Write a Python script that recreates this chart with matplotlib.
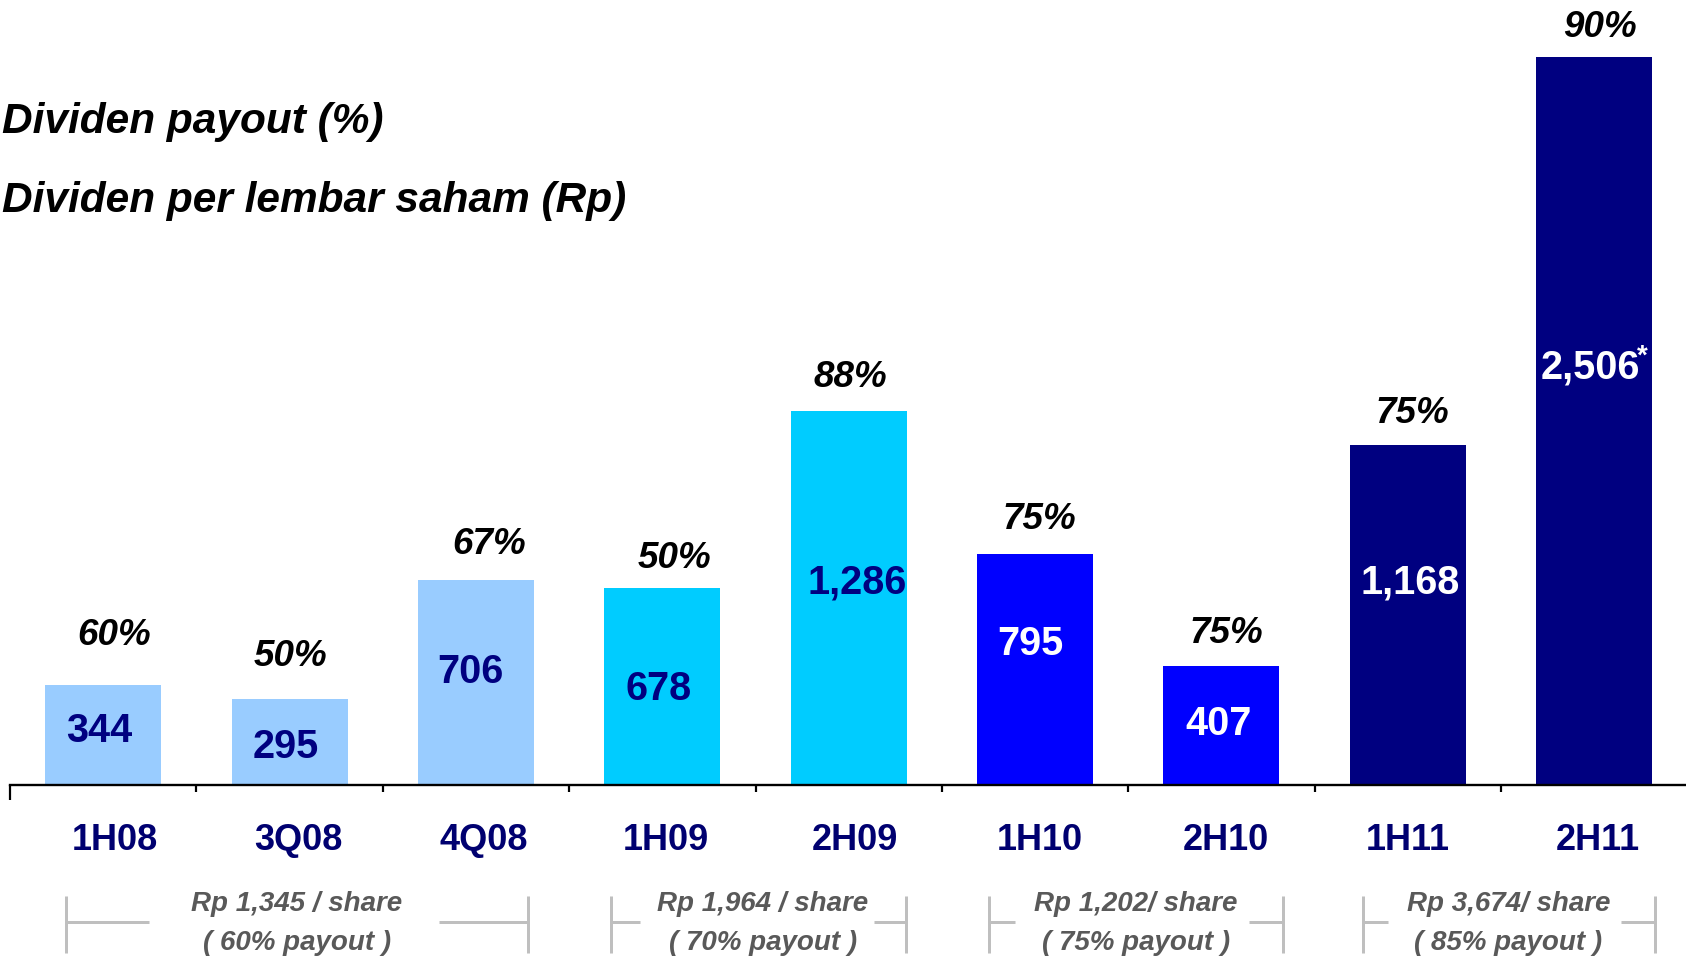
import matplotlib
matplotlib.use("Agg")
import matplotlib.pyplot as plt
from matplotlib import transforms

# ---- data ----
periods = ["1H08", "3Q08", "4Q08", "1H09", "2H09", "1H10", "2H10", "1H11", "2H11"]
dividend_per_share = [344, 295, 706, 678, 1286, 795, 407, 1168, 2506]
payout_pct = [60, 50, 67, 50, 88, 75, 75, 75, 90]
fiscal_year = [2008, 2008, 2008, 2009, 2009, 2010, 2010, 2011, 2011]

years = [2008, 2009, 2010, 2011]
year_total = ["Rp 1,345 / share", "Rp 1,964 / share", "Rp 1,202/ share", "Rp 3,674/ share"]
year_payout = ["( 60% payout )", "( 70% payout )", "( 75% payout )", "( 85% payout )"]

# ---- styling ----
year_color = {2008: "#99CCFF", 2009: "#00CCFF", 2010: "#0000FF", 2011: "#000080"}
year_text_color = {2008: "#000080", 2009: "#000080", 2010: "white", 2011: "white"}
NAVY = "#000070"
GREY_TEXT = "#595959"
GREY_LINE = "#BFBFBF"

W, H, DPI = 1686, 957, 100
PX = 72.0 / DPI                     # points per pixel

# label placement: baseline of the value inside each bar (data units),
# horizontal nudges (pixels) and gap between bar top and payout baseline
inner_baseline = [148, 91, 350, 291, 658, 446, 169, 658, 1399]
inner_dx_px = [-4, -4, -6, -4, 8, -5, -3, 2, -4]
pct_gap_px = [40, 33, 26, 20, 24, 25, 23, 22, 20]
pct_dx_px = [11, 1, 13, 12, 2, 4, 5, 4, 6]
period_dx_px = [12, 9, 8, 4, 6, 5, 4, 0, 4]
# bracket extents around each year (in category units)
bracket_pad_left = [0.20, 0.275, 0.247, 0.24]
bracket_pad_right = [0.28, 0.31, 0.33, 0.326]
arm_left = [0.445, 0.156, 0.14, 0.134]
arm_right = [0.477, 0.172, 0.18, 0.18]

plt.rcParams["font.family"] = ["Liberation Sans", "DejaVu Sans"]

fig = plt.figure(figsize=(W / DPI, H / DPI), dpi=DPI)
base_px = 784.5
ax = fig.add_axes([10 / W, (H - base_px) / H, 1 - 10 / W, base_px / H])

slot = 186.4                        # pixels per category
x0_px = 103.0                       # centre of the first bar
ax.set_xlim((10 - x0_px) / slot, (W - x0_px) / slot)
ax.set_ylim(0, base_px / 0.2903)

xs = list(range(len(periods)))
colors = [year_color[y] for y in fiscal_year]
ax.bar(xs, dividend_per_share, width=0.622, color=colors, zorder=2)

for s in ("top", "right", "left"):
    ax.spines[s].set_visible(False)
ax.spines["bottom"].set_linewidth(1.7)
ax.set_yticks([])
ax.set_xticks([-0.5])
ax.set_xticklabels([""])
ax.set_xticks([i + 0.5 for i in xs[:-1]], minor=True)
ax.tick_params(axis="x", which="major", direction="out", length=15 * PX, width=2.2 * PX)
ax.tick_params(axis="x", which="minor", direction="out", length=7 * PX, width=2.2 * PX)

# values inside the bars
for i, (v, y) in enumerate(zip(dividend_per_share, fiscal_year)):
    ax.annotate(f"{v:,}", xy=(i, inner_baseline[i]), xytext=(inner_dx_px[i] * PX, 0),
                textcoords="offset points", ha="center", va="baseline",
                fontsize=28.5, fontweight="bold", color=year_text_color[y], zorder=3)
    if i == len(xs) - 1:
        ax.annotate("*", xy=(i, inner_baseline[i]),
                    xytext=((47 + inner_dx_px[i]) * PX, 15 * PX),
                    textcoords="offset points", ha="left", va="baseline",
                    fontsize=20, fontweight="bold", color="white", zorder=3)

# payout ratio above the bars
for i, (v, p) in enumerate(zip(dividend_per_share, payout_pct)):
    ax.annotate(f"{p}%", xy=(i, v), xytext=(pct_dx_px[i] * PX, pct_gap_px[i] * PX),
                textcoords="offset points", ha="center", va="baseline",
                fontsize=26.5, fontweight="bold", fontstyle="italic", color="black")

# period labels under the axis
bt = transforms.blended_transform_factory(ax.transData, fig.transFigure)
def fy(px):
    return 1 - px / H

for i, lab in enumerate(periods):
    ax.text(i + period_dx_px[i] / slot, fy(850), lab, transform=bt, ha="center",
            va="baseline", fontsize=26, fontweight="bold", color=NAVY)

# yearly totals with brackets
for g, yr in enumerate(years):
    members = [i for i, y in enumerate(fiscal_year) if y == yr]
    first, last = members[0], members[-1]
    mid = (first + last) / 2 + 0.04
    ax.text(mid, fy(911), year_total[g], transform=bt, ha="center", va="baseline",
            fontsize=20, fontweight="bold", fontstyle="italic", color=GREY_TEXT)
    ax.text(mid, fy(950), year_payout[g], transform=bt, ha="center", va="baseline",
            fontsize=20, fontweight="bold", fontstyle="italic", color=GREY_TEXT)
    xl = first - bracket_pad_left[g]
    xr = last + bracket_pad_right[g]
    kw = dict(transform=bt, color=GREY_LINE, lw=3 * PX, clip_on=False, solid_capstyle="butt")
    ax.plot([xl, xl], [fy(896), fy(953)], **kw)
    ax.plot([xr, xr], [fy(896), fy(953)], **kw)
    ax.plot([xl, xl + arm_left[g]], [fy(922), fy(922)], **kw)
    ax.plot([xr - arm_right[g], xr], [fy(922), fy(922)], **kw)

# captions at top left
fig.text(2 / W, fy(133), "Dividen payout (%)", ha="left", va="baseline",
         fontsize=30.5, fontweight="bold", fontstyle="italic", color="black")
fig.text(2 / W, fy(212), "Dividen per lembar saham (Rp)", ha="left", va="baseline",
         fontsize=30.5, fontweight="bold", fontstyle="italic", color="black")

fig.savefig("out.png", dpi=DPI)
